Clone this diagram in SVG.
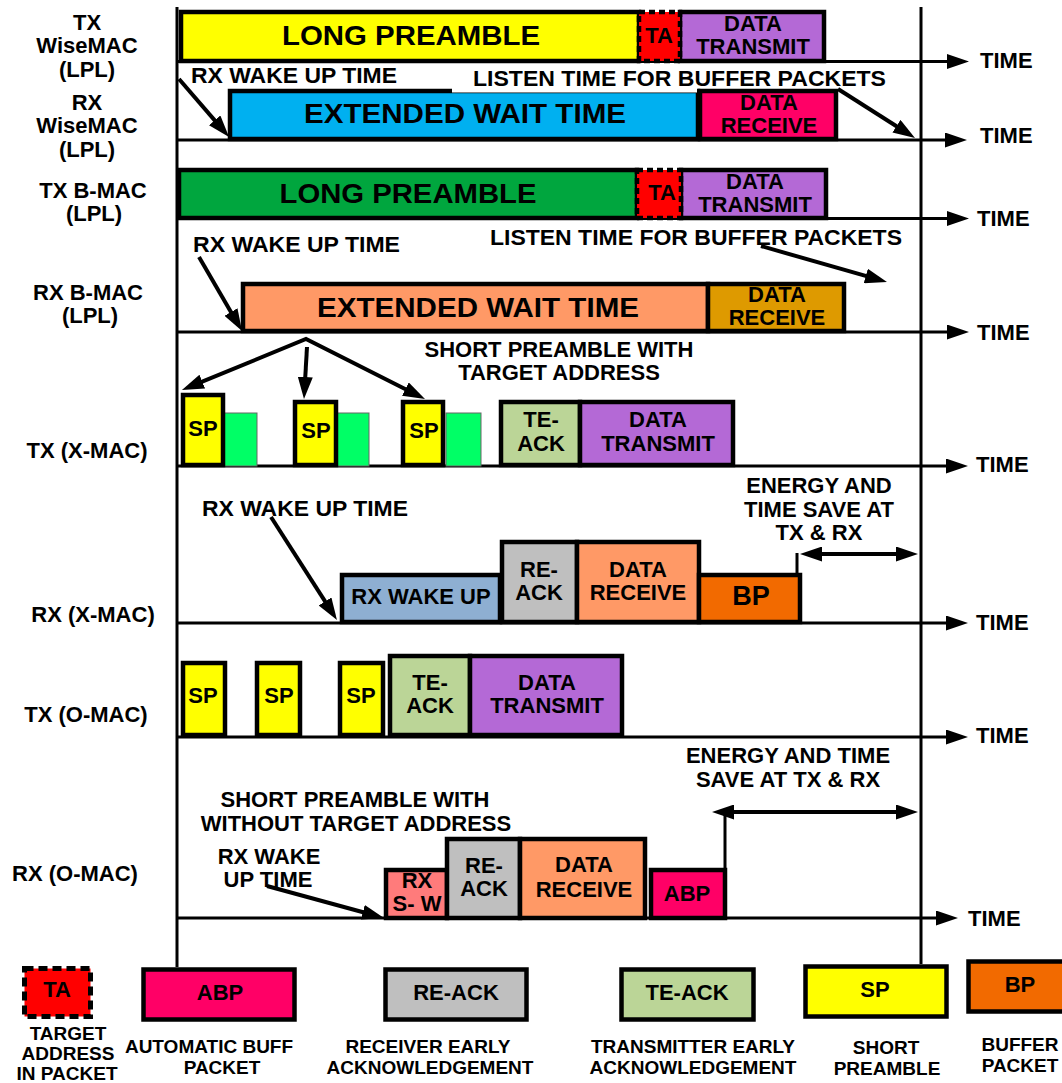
<svg xmlns="http://www.w3.org/2000/svg" width="1062" height="1083" viewBox="0 0 1062 1083">
<defs>
<style>
text{font-family:"Liberation Sans",Arial,sans-serif;font-weight:bold;fill:#000}
.c{text-anchor:middle}
.s22{font-size:22px}
.s27{font-size:27px}
.s19{font-size:19px}
.b{stroke:#000;stroke-width:4.5;stroke-linejoin:miter}
.ta{fill:#FF0000;stroke:#000;stroke-width:4.5;stroke-dasharray:6 4}
.ln{stroke:#000;stroke-width:3;fill:none}
.ar{stroke:#000;stroke-width:4;fill:none}
.gr{fill:#00FF66;stroke:#666;stroke-width:1}
</style>
<marker id="ah" viewBox="0 0 22 15" refX="8" refY="7.5" markerWidth="22" markerHeight="15" markerUnits="userSpaceOnUse" orient="auto-start-reverse">
<path d="M0,0 L22,7.5 L0,15 z" fill="#000"/>
</marker>
</defs>
<rect width="1062" height="1083" fill="#fff"/>

<g id="axes">
<line class="ln" x1="177" y1="7" x2="177" y2="967"/>
<line class="ln" x1="921" y1="7" x2="921" y2="964"/>
</g>

<g id="connectors">
<line class="ln" x1="177" y1="61.5" x2="955" y2="61.5" marker-end="url(#ah)"/>
<line class="ln" x1="177" y1="140" x2="953" y2="140" marker-end="url(#ah)"/>
<line class="ln" x1="177" y1="218.5" x2="955" y2="218.5" marker-end="url(#ah)"/>
<line class="ln" x1="177" y1="332" x2="955" y2="332" marker-end="url(#ah)"/>
<line class="ln" x1="177" y1="466" x2="954" y2="466" marker-end="url(#ah)"/>
<line class="ln" x1="177" y1="623" x2="954" y2="623" marker-end="url(#ah)"/>
<line class="ln" x1="177" y1="737" x2="954" y2="737" marker-end="url(#ah)"/>
<line class="ln" x1="177" y1="918" x2="944" y2="918" marker-end="url(#ah)"/>
</g>

<g id="row1">
<rect class="b" x="181" y="12" width="458" height="49" fill="#FFFF00"/>
<rect class="b" x="680" y="12" width="144" height="49" fill="#B469D6"/>
<rect class="ta" x="639" y="12" width="41" height="49"/>
<text class="c s27" x="411" y="45" textLength="258" lengthAdjust="spacingAndGlyphs">LONG PREAMBLE</text>
<text class="c s22" x="659" y="43">TA</text>
<text class="c s22" x="753" y="31">DATA</text>
<text class="c s22" x="753" y="54">TRANSMIT</text>
</g>

<g id="row2">
<rect class="b" x="230" y="91" width="468" height="48" fill="#00B0F0"/>
<rect class="b" x="700" y="91" width="136" height="48" fill="#FF0066"/>
<rect x="452" y="66" width="245" height="26.5" fill="#fff"/>
<text class="c s27" x="465" y="123" textLength="322" lengthAdjust="spacingAndGlyphs">EXTENDED WAIT TIME</text>
<text class="c s22" x="769" y="110">DATA</text>
<text class="c s22" x="769" y="133">RECEIVE</text>
<text class="s22" x="191" y="83" textLength="206" lengthAdjust="spacingAndGlyphs">RX WAKE UP TIME</text>
<text class="s22" x="473" y="86" textLength="413" lengthAdjust="spacingAndGlyphs">LISTEN TIME FOR BUFFER PACKETS</text>
</g>

<g id="row3">
<rect class="b" x="179" y="170" width="458" height="48" fill="#00A63E"/>
<rect class="b" x="681" y="170" width="145" height="48" fill="#B469D6"/>
<rect class="ta" x="637" y="170" width="44" height="48"/>
<text class="c s27" x="408" y="203" textLength="257" lengthAdjust="spacingAndGlyphs">LONG PREAMBLE</text>
<text class="c s22" x="662" y="200">TA</text>
<text class="c s22" x="755" y="189">DATA</text>
<text class="c s22" x="755" y="212">TRANSMIT</text>
</g>

<g id="row4">
<rect class="b" x="243" y="284" width="465" height="47" fill="#FF9966"/>
<rect class="b" x="708" y="284" width="136" height="47" fill="#DE9A00"/>
<text class="c s27" x="478" y="317" textLength="322" lengthAdjust="spacingAndGlyphs">EXTENDED WAIT TIME</text>
<text class="c s22" x="777" y="302">DATA</text>
<text class="c s22" x="777" y="325">RECEIVE</text>
<text class="s22" x="193" y="252" textLength="207" lengthAdjust="spacingAndGlyphs">RX WAKE UP TIME</text>
<text class="s22" x="490" y="245" textLength="412" lengthAdjust="spacingAndGlyphs">LISTEN TIME FOR BUFFER PACKETS</text>
</g>

<g id="row5">
<text class="c s22" x="559" y="357">SHORT PREAMBLE WITH</text>
<text class="c s22" x="559" y="380">TARGET ADDRESS</text>
<rect class="gr" x="224" y="413" width="33" height="53"/>
<rect class="gr" x="337" y="413" width="32" height="53"/>
<rect class="gr" x="446" y="413" width="35" height="53"/>
<rect class="b" x="183" y="395" width="40" height="70" fill="#FFFF00"/>
<rect class="b" x="295" y="402" width="41" height="63" fill="#FFFF00"/>
<rect class="b" x="403" y="402" width="40" height="63" fill="#FFFF00"/>
<rect class="b" x="501" y="402" width="79" height="63" fill="#BBD597"/>
<rect class="b" x="580" y="402" width="153" height="63" fill="#B469D6"/>
<text class="c s22" x="203" y="436">SP</text>
<text class="c s22" x="316" y="438">SP</text>
<text class="c s22" x="424" y="438">SP</text>
<text class="c s22" x="541" y="427">TE-</text>
<text class="c s22" x="541" y="451">ACK</text>
<text class="c s22" x="658" y="427">DATA</text>
<text class="c s22" x="658" y="451">TRANSMIT</text>
</g>

<g id="row6">
<text class="s22" x="202" y="516" textLength="206" lengthAdjust="spacingAndGlyphs">RX WAKE UP TIME</text>
<text class="c s22" x="819" y="493">ENERGY AND</text>
<text class="c s22" x="819" y="517">TIME SAVE AT</text>
<text class="c s22" x="819" y="540">TX &amp; RX</text>
<rect class="b" x="342" y="575" width="158" height="47" fill="#8EAFD2"/>
<rect class="b" x="502" y="542" width="75" height="80" fill="#BFBFBF"/>
<rect class="b" x="577" y="542" width="122" height="80" fill="#FF9966"/>
<rect class="b" x="699" y="575" width="101" height="47" fill="#F26A00"/>
<text class="c s22" x="421" y="604">RX WAKE UP</text>
<text class="c s22" x="539" y="577">RE-</text>
<text class="c s22" x="539" y="600">ACK</text>
<text class="c s22" x="638" y="577">DATA</text>
<text class="c s22" x="638" y="600">RECEIVE</text>
<text class="c s27" x="751" y="605">BP</text>
</g>

<g id="row7">
<rect class="b" x="183" y="663" width="42" height="72" fill="#FFFF00"/>
<rect class="b" x="257" y="663" width="43" height="72" fill="#FFFF00"/>
<rect class="b" x="340" y="663" width="43" height="72" fill="#FFFF00"/>
<rect class="b" x="390" y="656" width="80" height="79" fill="#BBD597"/>
<rect class="b" x="470" y="656" width="152" height="79" fill="#B469D6"/>
<text class="c s22" x="203" y="703">SP</text>
<text class="c s22" x="279" y="703">SP</text>
<text class="c s22" x="361" y="703">SP</text>
<text class="c s22" x="430" y="690">TE-</text>
<text class="c s22" x="430" y="713">ACK</text>
<text class="c s22" x="547" y="690">DATA</text>
<text class="c s22" x="547" y="713">TRANSMIT</text>
</g>

<g id="row8">
<text class="c s22" x="788" y="763">ENERGY AND TIME</text>
<text class="c s22" x="788" y="787">SAVE AT TX &amp; RX</text>
<text class="c s22" x="355" y="807">SHORT PREAMBLE WITH</text>
<text class="c s22" x="356" y="831">WITHOUT TARGET ADDRESS</text>
<text class="c s22" x="269" y="864">RX WAKE</text>
<text class="c s22" x="268" y="887">UP TIME</text>
<rect class="b" x="386" y="870" width="61" height="48" fill="#FF7B7B"/>
<rect class="b" x="447" y="839" width="73" height="79" fill="#BFBFBF"/>
<rect class="b" x="520" y="839" width="125" height="79" fill="#FF9966"/>
<rect class="b" x="651" y="870" width="74" height="48" fill="#FF0066"/>
<text class="c s22" x="417" y="888">RX</text>
<text class="c s22" x="417" y="911">S- W</text>
<text class="c s22" x="484" y="873">RE-</text>
<text class="c s22" x="484" y="896">ACK</text>
<text class="c s22" x="584" y="872">DATA</text>
<text class="c s22" x="584" y="897">RECEIVE</text>
<text class="c s22" x="687" y="901">ABP</text>
</g>

<g id="callouts">
<line class="ar" x1="179" y1="79" x2="219.9" y2="126.4" marker-end="url(#ah)"/>
<line class="ar" x1="838" y1="89" x2="903.2" y2="130.5" marker-end="url(#ah)"/>
<line class="ar" x1="199" y1="257" x2="235" y2="318.9" marker-end="url(#ah)"/>
<line class="ar" x1="761" y1="246" x2="873.5" y2="278.2" marker-end="url(#ah)"/>
<polyline class="ar" points="194.9,384.7 306,339 412.5,392.7" marker-start="url(#ah)" marker-end="url(#ah)"/>
<line class="ar" x1="307" y1="347" x2="304.8" y2="385" marker-end="url(#ah)"/>
<line class="ar" x1="271" y1="517" x2="329.4" y2="608.2" marker-end="url(#ah)"/>
<line class="ar" x1="267" y1="886" x2="370.5" y2="914.3" marker-end="url(#ah)"/>
<line class="ln" x1="797" y1="553" x2="797" y2="573"/>
<line class="ar" x1="814" y1="554" x2="904" y2="554" marker-start="url(#ah)" marker-end="url(#ah)"/>
<line class="ln" x1="725" y1="812" x2="725" y2="868"/>
<line class="ar" x1="726" y1="812" x2="904" y2="812" marker-start="url(#ah)" marker-end="url(#ah)"/>
</g>

<g id="time-labels">
<text class="s22" x="980" y="68">TIME</text>
<text class="s22" x="980" y="143">TIME</text>
<text class="s22" x="977" y="226">TIME</text>
<text class="s22" x="977" y="340">TIME</text>
<text class="s22" x="976" y="472">TIME</text>
<text class="s22" x="976" y="630">TIME</text>
<text class="s22" x="976" y="743">TIME</text>
<text class="s22" x="968" y="926">TIME</text>
</g>

<g id="row-labels">
<text class="c s22" x="87" y="30">TX</text>
<text class="c s22" x="87" y="53">WiseMAC</text>
<text class="c s22" x="87" y="77">(LPL)</text>
<text class="c s22" x="87" y="110">RX</text>
<text class="c s22" x="87" y="133">WiseMAC</text>
<text class="c s22" x="87" y="157">(LPL)</text>
<text class="c s22" x="93" y="198">TX B-MAC</text>
<text class="c s22" x="94" y="221">(LPL)</text>
<text class="c s22" x="88" y="300">RX B-MAC</text>
<text class="c s22" x="90" y="323">(LPL)</text>
<text class="c s22" x="87" y="458">TX (X-MAC)</text>
<text class="c s22" x="93" y="622">RX (X-MAC)</text>
<text class="c s22" x="86" y="722">TX (O-MAC)</text>
<text class="c s22" x="75" y="881">RX (O-MAC)</text>
</g>

<g id="legend-ta">
<rect x="24.5" y="968.5" width="66" height="48" fill="#FF0000" stroke="#000" stroke-width="5" stroke-dasharray="9 5"/>
<text class="c s22" x="57" y="997">TA</text>
<text class="c s19" x="68" y="1040">TARGET</text>
<text class="c s19" x="68" y="1060">ADDRESS</text>
<text class="c s19" x="67" y="1080">IN PACKET</text>
</g>
<g id="legend-abp">
<rect class="b" x="143.5" y="969.5" width="151" height="50" fill="#FF0066"/>
<text class="c s22" x="220" y="1000">ABP</text>
<text class="c s19" x="209" y="1053">AUTOMATIC BUFF</text>
<text class="c s19" x="222" y="1074">PACKET</text>
</g>
<g id="legend-reack">
<rect class="b" x="385.5" y="969.5" width="141" height="50" fill="#BFBFBF"/>
<text class="c s22" x="456" y="1000">RE-ACK</text>
<text class="c s19" x="428" y="1053">RECEIVER EARLY</text>
<text class="c s19" x="430" y="1074">ACKNOWLEDGEMENT</text>
</g>
<g id="legend-teack">
<rect class="b" x="621.5" y="969.5" width="132" height="50" fill="#BBD597"/>
<text class="c s22" x="687" y="1000">TE-ACK</text>
<text class="c s19" x="693" y="1053">TRANSMITTER EARLY</text>
<text class="c s19" x="693" y="1074">ACKNOWLEDGEMENT</text>
</g>
<g id="legend-sp">
<rect class="b" x="805.5" y="966.5" width="141" height="50" fill="#FFFF00"/>
<text class="c s22" x="875" y="997">SP</text>
<text class="c s19" x="886" y="1054">SHORT</text>
<text class="c s19" x="887" y="1075">PREAMBLE</text>
</g>
<g id="legend-bp">
<rect class="b" x="968.5" y="961.5" width="102" height="50" fill="#F26A00"/>
<text class="c s22" x="1020" y="992">BP</text>
<text class="c s19" x="1020" y="1051">BUFFER</text>
<text class="c s19" x="1020" y="1072">PACKET</text>
</g>
</svg>
